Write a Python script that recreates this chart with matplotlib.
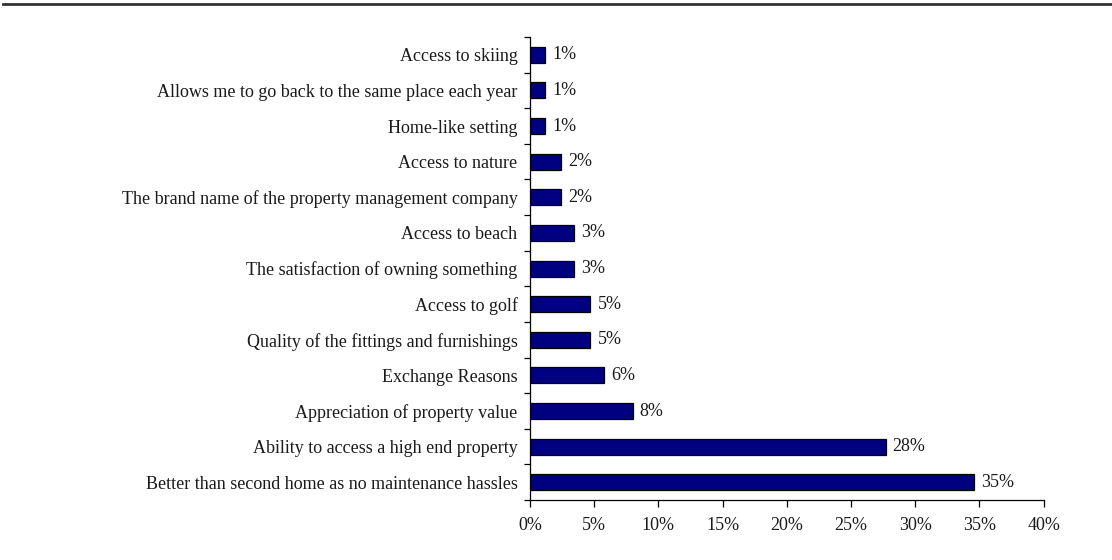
import matplotlib
matplotlib.use("Agg")
import matplotlib.pyplot as plt
from matplotlib.lines import Line2D
from matplotlib.ticker import MultipleLocator, FuncFormatter

# Reasons for buying, share of respondents (%)
reasons = [
    "Access to skiing",
    "Allows me to go back to the same place each year",
    "Home-like setting",
    "Access to nature",
    "The brand name of the property management company",
    "Access to beach",
    "The satisfaction of owning something",
    "Access to golf",
    "Quality of the fittings and furnishings",
    "Exchange Reasons",
    "Appreciation of property value",
    "Ability to access a high end property",
    "Better than second home as no maintenance hassles",
]
shares = [1.2, 1.2, 1.2, 2.4, 2.4, 3.4, 3.4, 4.7, 4.7, 5.8, 8.0, 27.7, 34.6]

plt.rcParams["font.family"] = ["Liberation Serif", "DejaVu Serif"]
TEXT = "#1a1a1a"
FS = 13

fig = plt.figure(figsize=(11.12, 5.6), dpi=100)
ax = fig.add_axes([0.4766, 0.107, 0.9385 - 0.4766, 0.934 - 0.107])

# Top to bottom ordering: first item at the top
n = len(reasons)
ypos = [n - 1 - i for i in range(n)]
ax.barh(ypos, shares, height=0.45, color="#000080", edgecolor="black", linewidth=0.9)

for y, v in zip(ypos, shares):
    ax.text(v + 0.55, y, f"{round(v):d}%", va="center", ha="left",
            fontsize=FS, color=TEXT)

ax.set_xlim(0, 40)
ax.set_ylim(-0.5, n - 0.5)
ax.xaxis.set_major_locator(MultipleLocator(5))
ax.xaxis.set_major_formatter(FuncFormatter(lambda x, p: f"{x:.0f}%"))

# Category labels centred on bars, tick marks between categories
ax.set_yticks(ypos)
ax.set_yticklabels(reasons, fontsize=FS, color=TEXT)
ax.set_yticks([i + 0.5 for i in range(-1, n)], minor=True)
ax.tick_params(axis="y", which="major", length=0, pad=9)
ax.tick_params(axis="y", which="minor", length=4, width=0.9, direction="out")
ax.tick_params(axis="x", which="major", length=5, width=0.9, direction="out",
               labelsize=FS, labelcolor=TEXT, pad=7)

for side in ("top", "right"):
    ax.spines[side].set_visible(False)
for side in ("left", "bottom"):
    ax.spines[side].set_linewidth(0.9)
    ax.spines[side].set_color("black")

# Rule across the top of the page
fig.add_artist(Line2D([0.003, 1.0], [0.992, 0.992], transform=fig.transFigure,
                      color="#333333", linewidth=2.0))

fig.savefig("out.png", dpi=100)
